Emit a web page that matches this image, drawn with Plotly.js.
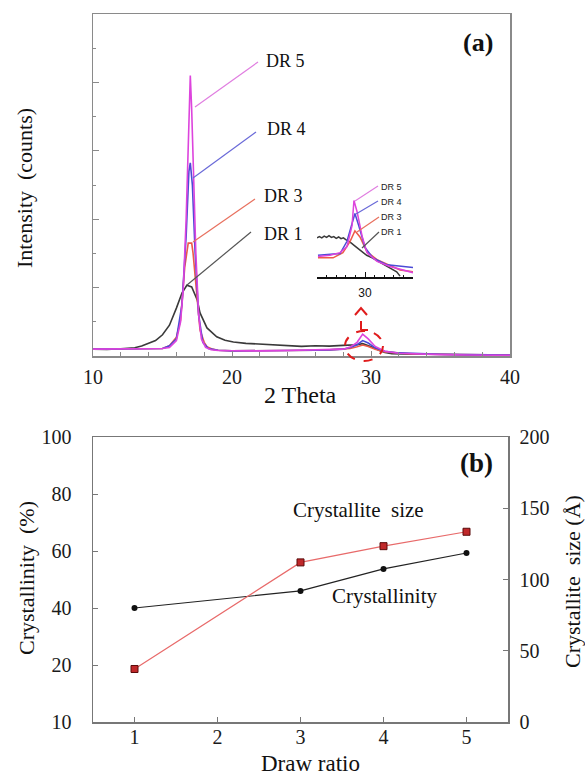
<!DOCTYPE html>
<html>
<head>
<meta charset="utf-8">
<script src="https://cdn.plot.ly/plotly-3.0.1.min.js"></script>
<style>html,body{margin:0;padding:0;background:#fff;}#chart{width:585px;height:775px;}</style>
</head>
<body>
<div id="chart"></div>
<script>
// ---------- Panel (a): XRD patterns (2 Theta vs intensity, arbitrary counts) ----------
const dr1X = [10, 11, 12, 12.5, 13, 13.5, 14, 14.5, 15, 15.5, 16, 16.4, 16.75, 17.1, 17.5, 17.7, 18.2, 18.9, 19.5, 20.1, 21, 22, 22.5, 23.5, 24, 25, 26, 27, 28, 28.5, 29, 29.4, 29.8, 30.2, 30.6, 31, 31.5, 32, 33, 34, 35, 36, 37, 38, 39, 40];
const dr1Y = [0.2, 0.19, 0.21, 0.22, 0.24, 0.29, 0.36, 0.45, 0.62, 0.9, 1.4, 1.84, 2.07, 2.02, 1.64, 1.26, 0.82, 0.56, 0.46, 0.41, 0.37, 0.35, 0.33, 0.31, 0.3, 0.28, 0.3, 0.29, 0.31, 0.32, 0.33, 0.36, 0.31, 0.24, 0.16, 0.1, 0.07, 0.06, 0.05, 0.05, 0.04, 0.04, 0.03, 0.03, 0.02, 0.02];

const dr3X = [10, 12, 14, 15, 15.5, 16, 16.3, 16.6, 16.85, 17.1, 17.2, 17.5, 17.7, 18.0, 18.2, 18.6, 19, 20, 22, 24, 26, 27, 28, 28.5, 29, 29.4, 29.8, 30.3, 31, 32, 33, 35, 37, 40];
const dr3Y = [0.2, 0.2, 0.2, 0.22, 0.3, 0.55, 1.05, 2.6, 3.3, 3.3, 3.0, 1.6, 0.76, 0.4, 0.27, 0.2, 0.17, 0.15, 0.15, 0.16, 0.17, 0.18, 0.2, 0.22, 0.27, 0.32, 0.28, 0.2, 0.12, 0.08, 0.06, 0.05, 0.04, 0.03];

const dr4X = [10, 12, 14, 15, 15.5, 16, 16.4, 16.7, 16.9, 17.0, 17.15, 17.35, 17.6, 17.9, 18.3, 19, 20, 22, 24, 26, 27, 28, 28.5, 29, 29.4, 29.8, 30.3, 31, 32, 33, 35, 37, 40];
const dr4Y = [0.2, 0.2, 0.2, 0.22, 0.3, 0.5, 1.5, 3.5, 5.4, 5.65, 5.0, 3.0, 1.2, 0.4, 0.22, 0.17, 0.15, 0.15, 0.16, 0.17, 0.18, 0.2, 0.25, 0.33, 0.45, 0.38, 0.24, 0.14, 0.09, 0.07, 0.05, 0.04, 0.03];

const dr5X = [10, 12, 14, 15, 15.5, 16, 16.3, 16.5, 16.7, 16.85, 17.0, 17.1, 17.25, 17.4, 17.6, 17.8, 18.1, 18.5, 19, 20, 22, 24, 26, 27, 28, 28.5, 29, 29.4, 29.8, 30.3, 31, 32, 33, 35, 37, 40];
const dr5Y = [0.2, 0.2, 0.2, 0.22, 0.25, 0.45, 1.0, 2.0, 4.0, 6.5, 8.2, 7.2, 5.0, 3.0, 1.2, 0.5, 0.25, 0.18, 0.16, 0.15, 0.15, 0.16, 0.17, 0.18, 0.2, 0.26, 0.4, 0.64, 0.5, 0.28, 0.14, 0.08, 0.06, 0.04, 0.03, 0.02];

// ---------- Inset: zoom around 2 Theta = 30 ----------
const inDr1X = [28.0, 28.1, 28.2, 28.3, 28.4, 28.5, 28.6, 28.7, 28.8, 28.9, 29.0, 29.1, 29.2, 29.38, 29.65, 29.86, 30.07, 30.3, 30.49, 30.7, 30.9, 31.1, 31.32, 31.46];
const inDr1Y = [0.45, 0.465, 0.45, 0.47, 0.455, 0.475, 0.455, 0.465, 0.445, 0.46, 0.44, 0.45, 0.43, 0.40, 0.34, 0.30, 0.25, 0.22, 0.19, 0.15, 0.12, 0.09, 0.06, 0.01];
const inDr3X = [28.04, 28.67, 29.08, 29.38, 29.58, 29.79, 30.08, 30.5, 31.46, 32.0];
const inDr3Y = [0.22, 0.22, 0.28, 0.41, 0.53, 0.46, 0.29, 0.2, 0.08, 0.06];
const inDr4X = [28.04, 28.54, 28.96, 29.25, 29.46, 29.58, 29.75, 30.0, 30.33, 30.92, 32.0];
const inDr4Y = [0.25, 0.26, 0.27, 0.41, 0.61, 0.73, 0.58, 0.34, 0.22, 0.14, 0.11];
const inDr5X = [28.04, 28.54, 28.96, 29.25, 29.46, 29.54, 29.67, 29.88, 30.08, 30.5, 31.04, 31.58, 32.0];
const inDr5Y = [0.235, 0.25, 0.28, 0.35, 0.59, 0.88, 0.75, 0.47, 0.28, 0.18, 0.12, 0.08, 0.05];

// ---------- Panel (b): crystallinity and crystallite size vs draw ratio ----------
const drawRatio = [1, 3, 4, 5];
const crystallinity = [40, 46, 53.7, 59.3];
const crystalliteSize = [37.2, 112, 123.4, 133.5];
const leftTickVals = [0, 20, 40, 60, 80, 100];
const leftTickText = ['10', '20', '40', '60', '80', '100'];
const rightTickVals = [0, 50, 100, 150, 200];

const seriesNames = ['DR 1', 'DR 3', 'DR 4', 'DR 5'];
const seriesColors = ['#3a3a3a', '#ee5a48', '#4b4bd6', '#dd44dd'];

// ---------- helpers (pixel -> paper) ----------
const W = 585, H = 775;
const PX = p => p / W;
const PY = p => 1 - p / H;
const serif = '"Liberation Serif", "Times New Roman", serif';
const sans = '"Liberation Sans", Arial, sans-serif';
const tf = () => ({family: serif, size: 20, color: '#1a1a1a'});

const mainSets = [[dr1X, dr1Y], [dr3X, dr3Y], [dr4X, dr4Y], [dr5X, dr5Y]];
const insetSets = [[inDr1X, inDr1Y], [inDr3X, inDr3Y], [inDr4X, inDr4Y], [inDr5X, inDr5Y]];

const traces = [];
mainSets.forEach((s, i) => traces.push({
  x: s[0], y: s[1], type: 'scatter', mode: 'lines', name: seriesNames[i],
  line: {color: seriesColors[i], width: 1.6}, xaxis: 'x', yaxis: 'y', hoverinfo: 'skip'
}));
insetSets.forEach((s, i) => traces.push({
  x: s[0], y: s[1], type: 'scatter', mode: 'lines', name: seriesNames[i] + ' inset',
  line: {color: seriesColors[i], width: 1.5}, xaxis: 'x2', yaxis: 'y2', hoverinfo: 'skip'
}));
traces.push({
  x: drawRatio, y: crystallinity, type: 'scatter', mode: 'lines+markers', name: 'Crystallinity',
  line: {color: '#222', width: 1.2}, marker: {color: '#111', size: 6, symbol: 'circle'},
  xaxis: 'x3', yaxis: 'y3'
});
traces.push({
  x: drawRatio, y: crystalliteSize, type: 'scatter', mode: 'lines+markers', name: 'Crystallite size',
  line: {color: '#e86a6a', width: 1.2}, marker: {color: '#c0282a', size: 7, symbol: 'square', line: {color: '#5a0a0a', width: 1}},
  xaxis: 'x3', yaxis: 'y4'
});

const frameA = '#8a8a8a', frameB = '#777';

const layout = {
  width: W, height: H,
  margin: {l: 0, r: 0, t: 0, b: 0},
  paper_bgcolor: '#fff', plot_bgcolor: '#fff',
  font: {family: serif, size: 20, color: '#1a1a1a'},
  showlegend: false,
  xaxis: {
    domain: [PX(93), PX(510)], anchor: 'y', range: [10, 40],
    tickvals: [10, 20, 30, 40], ticks: 'inside', ticklen: 5, tickcolor: frameA,
    minor: {tick0: 10, dtick: 2, ticks: 'inside', ticklen: 4, tickcolor: frameA},
    showline: true, mirror: true, linecolor: frameA, linewidth: 1.5,
    showgrid: false, zeroline: false, tickfont: tf(), ticklabelstandoff: 2
  },
  yaxis: {
    domain: [PY(356), PY(14)], anchor: 'x', range: [0, 10],
    showticklabels: false, tick0: 0, dtick: 2, ticks: 'inside', ticklen: 6, tickcolor: frameA,
    minor: {tick0: 0, dtick: 1, ticks: 'inside', ticklen: 3, tickcolor: frameA},
    showline: true, mirror: true, linecolor: frameA, linewidth: 1.5,
    showgrid: false, zeroline: false
  },
  xaxis2: {
    domain: [PX(317), PX(413)], anchor: 'y2', range: [28, 32],
    tickvals: [30], ticktext: ['30'], ticks: 'inside', ticklen: 5, tickcolor: '#111',
    minor: {tick0: 28, dtick: 0.4, ticks: 'inside', ticklen: 2.5, tickcolor: '#111'},
    showline: true, linecolor: '#111', linewidth: 2, showgrid: false, zeroline: false,
    tickfont: {family: sans, size: 12, color: '#111'}, ticklabelstandoff: 4
  },
  yaxis2: {
    domain: [PY(277), PY(190)], anchor: 'x2', range: [0, 1], visible: false
  },
  xaxis3: {
    domain: [PX(93), PX(508)], anchor: 'y3', range: [0.5, 5.5],
    tickvals: [1, 2, 3, 4, 5], ticks: 'inside', ticklen: 5, tickcolor: frameB,
    showline: true, mirror: true, linecolor: frameB, linewidth: 1.5,
    showgrid: false, zeroline: false, tickfont: tf(), ticklabelstandoff: -4
  },
  yaxis3: {
    domain: [PY(722), PY(437)], anchor: 'x3', range: [0, 100],
    tickvals: leftTickVals, ticktext: leftTickText, ticks: 'inside', ticklen: 5, tickcolor: frameB,
    showline: true, linecolor: frameB, linewidth: 1.5,
    showgrid: false, zeroline: false, tickfont: tf(), ticklabelstandoff: 16
  },
  yaxis4: {
    overlaying: 'y3', side: 'right', anchor: 'x3', range: [0, 200],
    tickvals: rightTickVals, ticks: 'inside', ticklen: 5, tickcolor: frameB,
    showline: true, linecolor: frameB, linewidth: 1.5,
    showgrid: false, zeroline: false, tickfont: tf(), ticklabelstandoff: 6
  },
  annotations: [],
  shapes: []
};

function ann(text, x, y, opts) {
  layout.annotations.push(Object.assign({
    text: text, x: PX(x), y: PY(y), xref: 'paper', yref: 'paper',
    showarrow: false, xanchor: 'center', yanchor: 'middle', borderpad: 0,
    font: {family: serif, size: 20, color: '#111'}
  }, opts || {}));
}
function seg(x0, y0, x1, y1, color, width, dash) {
  layout.shapes.push({
    type: 'line', xref: 'paper', yref: 'paper',
    x0: PX(x0), y0: PY(y0), x1: PX(x1), y1: PY(y1),
    line: {color: color, width: width || 1, dash: dash || 'solid'}
  });
}

// axis titles
ann('Intensity&nbsp;&nbsp;(counts)', 25, 188, {textangle: -90, font: {family: serif, size: 22, color: '#111'}});
ann('2 Theta', 300, 395, {font: {family: serif, size: 24, color: '#111'}});
ann('Crystallinity&nbsp;&nbsp;(%)', 26, 578, {textangle: -90, font: {family: serif, size: 22, color: '#111'}});
ann('Crystallite&nbsp;&nbsp;size&nbsp;(Å)', 572, 582, {textangle: -90, font: {family: serif, size: 22, color: '#111'}});
ann('Draw ratio', 310, 763, {font: {family: serif, size: 23, color: '#111'}});

// panel letters
ann('<b>(a)</b>', 478, 43, {font: {family: serif, size: 26, color: '#111'}});
ann('<b>(b)</b>', 476, 463, {font: {family: serif, size: 27, color: '#111'}});

// panel (b) series labels
ann('Crystallite&nbsp;&nbsp;size', 358, 510, {font: {family: serif, size: 21, color: '#111'}});
ann('Crystallinity', 385, 596, {font: {family: serif, size: 21, color: '#111'}});

// main DR labels + leader lines
const leadColors = ['#555', '#e8705e', '#6a6ad8', '#e07ee0'];
ann('DR 5', 265, 61, {xanchor: 'left', font: {family: serif, size: 18, color: '#111'}});
ann('DR 4', 266, 129, {xanchor: 'left', font: {family: serif, size: 18, color: '#111'}});
ann('DR 3', 263, 196, {xanchor: 'left', font: {family: serif, size: 18, color: '#111'}});
ann('DR 1', 263, 234, {xanchor: 'left', font: {family: serif, size: 18, color: '#111'}});
seg(195, 107, 258, 62, leadColors[3], 1.2);
seg(193, 178, 256, 132, leadColors[2], 1.2);
seg(193, 242, 255, 199, leadColors[1], 1.2);
seg(187, 285, 251, 232, leadColors[0], 1.2);

// inset labels + leader lines
ann('DR 5', 380, 187, {xanchor: 'left', font: {family: sans, size: 9, color: '#222'}});
ann('DR 4', 380, 202, {xanchor: 'left', font: {family: sans, size: 9, color: '#222'}});
ann('DR 3', 380, 217, {xanchor: 'left', font: {family: sans, size: 9, color: '#222'}});
ann('DR 1', 380, 232, {xanchor: 'left', font: {family: sans, size: 9, color: '#222'}});
seg(355, 201, 378, 186, leadColors[3], 1.2);
seg(356, 214, 378, 201, leadColors[2], 1.2);
seg(357, 232, 379, 217, leadColors[1], 1.2);
seg(362, 248, 379, 232, leadColors[0], 1.2);

// red dashed circle + arrow
layout.shapes.push({
  type: 'circle', xref: 'paper', yref: 'paper',
  x0: PX(345), x1: PX(383), y0: PY(361), y1: PY(331),
  line: {color: '#e01c1c', width: 2, dash: 'dash'}
});
seg(361, 330, 361, 313, '#e01c1c', 2, 'dash');
seg(361, 330, 368, 330, '#e01c1c', 2);
layout.shapes.push({
  type: 'path', xref: 'paper', yref: 'paper',
  path: 'M ' + PX(355) + ' ' + PY(315) + ' L ' + PX(361) + ' ' + PY(308) + ' L ' + PX(367) + ' ' + PY(315),
  line: {color: '#e01c1c', width: 2}
});

Plotly.newPlot('chart', traces, layout, {displayModeBar: false, staticPlot: true});
</script>
</body>
</html>
